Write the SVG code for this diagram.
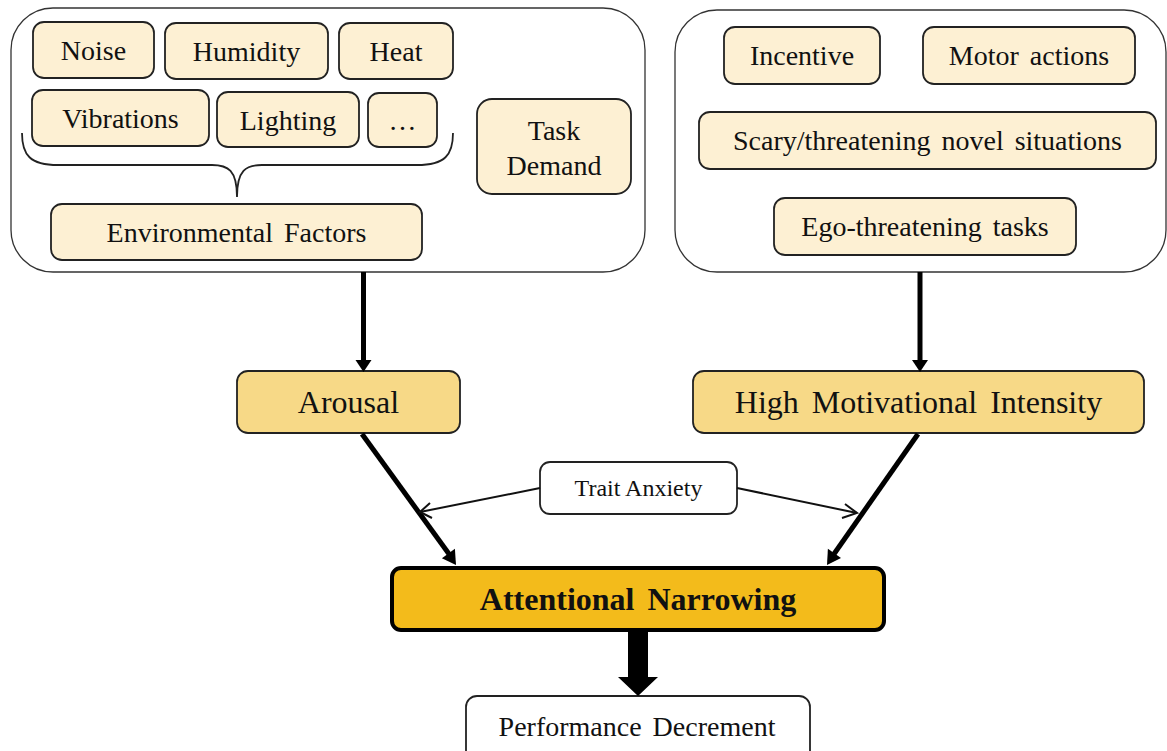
<svg xmlns="http://www.w3.org/2000/svg" width="1167" height="751" viewBox="0 0 1167 751">
<style>
text{font-family:"Liberation Serif","Times New Roman",serif;fill:#111;text-anchor:middle}
.grp{fill:#fff;stroke:#333;stroke-width:1.3}
.sm{fill:#fdf0d3;stroke:#222;stroke-width:1.8}
.mid{fill:#f7d987;stroke:#222;stroke-width:1.8}
.t28{font-size:28px;word-spacing:4px}
.t32{font-size:32px;word-spacing:5px}
.thick{stroke:#000;stroke-width:5;fill:none}
.thin{stroke:#111;stroke-width:2;fill:none}
.head{fill:#000}
</style>
<rect width="1167" height="751" fill="#fff"/>
<g id="env-group">
<rect class="grp" x="11" y="8" width="634" height="264" rx="42"/>
</g>
<g id="motiv-group">
<rect class="grp" x="675" y="10" width="491" height="262" rx="42"/>
</g>
<g id="noise"><rect class="sm" x="33" y="22" width="121" height="56" rx="11"/><text class="t28" x="93.5" y="60">Noise</text></g>
<g id="humidity"><rect class="sm" x="165" y="23" width="163" height="56" rx="11"/><text class="t28" x="246.5" y="61">Humidity</text></g>
<g id="heat"><rect class="sm" x="339" y="23" width="114" height="56" rx="11"/><text class="t28" x="396" y="61">Heat</text></g>
<g id="vibrations"><rect class="sm" x="32" y="90" width="177" height="56" rx="11"/><text class="t28" x="120.5" y="128">Vibrations</text></g>
<g id="lighting"><rect class="sm" x="217" y="92" width="142" height="55" rx="11"/><text class="t28" x="288" y="130">Lighting</text></g>
<g id="etc"><rect class="sm" x="368" y="93" width="69" height="54" rx="11"/><text class="t28" x="402.5" y="130">…</text></g>
<g id="brace"><path d="M22 133 C22 155 30 165 58 165 L212 165 C228 165 237 170 237 197 M453 133 C453 155 445 165 417 165 L262 165 C246 165 237 170 237 197" fill="none" stroke="#222" stroke-width="1.8"/></g>
<g id="env-factors"><rect class="sm" x="51" y="204" width="371" height="56" rx="11"/><text class="t28" x="236.5" y="242">Environmental Factors</text></g>
<g id="task-demand"><rect class="sm" x="477" y="99" width="154" height="95" rx="15"/><text class="t28" x="554" y="140">Task</text><text class="t28" x="554" y="175">Demand</text></g>
<g id="incentive"><rect class="sm" x="724" y="27" width="156" height="57" rx="11"/><text class="t28" x="802" y="65">Incentive</text></g>
<g id="motor"><rect class="sm" x="923" y="27" width="212" height="57" rx="11"/><text class="t28" x="1029" y="65">Motor actions</text></g>
<g id="scary"><rect class="sm" x="699" y="112" width="457" height="57" rx="11"/><text class="t28" x="927.5" y="150">Scary/threatening novel situations</text></g>
<g id="ego"><rect class="sm" x="774" y="198" width="302" height="57" rx="11"/><text class="t28" x="925" y="236">Ego-threatening tasks</text></g>
<g id="arousal"><rect class="mid" x="237" y="371" width="223" height="62" rx="11"/><text class="t32" x="348.5" y="413">Arousal</text></g>
<g id="hmi"><rect class="mid" x="693" y="371" width="451" height="62" rx="11"/><text class="t32" x="918.5" y="413">High Motivational Intensity</text></g>
<g id="trait"><rect x="540" y="462" width="197" height="52" rx="10" fill="#fff" stroke="#222" stroke-width="1.8"/><text x="638.5" y="496" style="font-size:24px">Trait Anxiety</text></g>
<g id="attn"><rect x="392" y="568" width="492" height="62" rx="9" fill="#f3bb1b" stroke="#000" stroke-width="4"/><text x="638" y="610" style="font-size:32px;font-weight:bold;word-spacing:5px">Attentional Narrowing</text></g>
<g id="perf"><rect x="466" y="696" width="344" height="70" rx="11" fill="#fff" stroke="#222" stroke-width="1.8"/><text class="t28" x="637" y="736">Performance Decrement</text></g>
<g id="connectors">
<line class="thick" x1="363.5" y1="272" x2="363.5" y2="361"/>
<polygon class="head" points="355.5,360 371.5,360 363.5,372"/>
<line class="thick" x1="920" y1="272" x2="920" y2="361"/>
<polygon class="head" points="912,360 928,360 920,372"/>
<line class="thick" x1="362" y1="434" x2="449" y2="554"/>
<polygon class="head" points="441.9,558.2 454.9,548.8 456,565"/>
<line class="thick" x1="918" y1="434" x2="834" y2="554"/>
<polygon class="head" points="841,558 827.9,548.8 827,565"/>
<polyline class="thin" points="540,488 420,512"/>
<polyline class="thin" points="430,503 420,512 432,518"/>
<polyline class="thin" points="737,488 857,513"/>
<polyline class="thin" points="845,504 857,513 842,518"/>
<polygon class="head" points="628,631 648,631 648,677 658,677 638,696 618,677 628,677"/>
</g>
</svg>
